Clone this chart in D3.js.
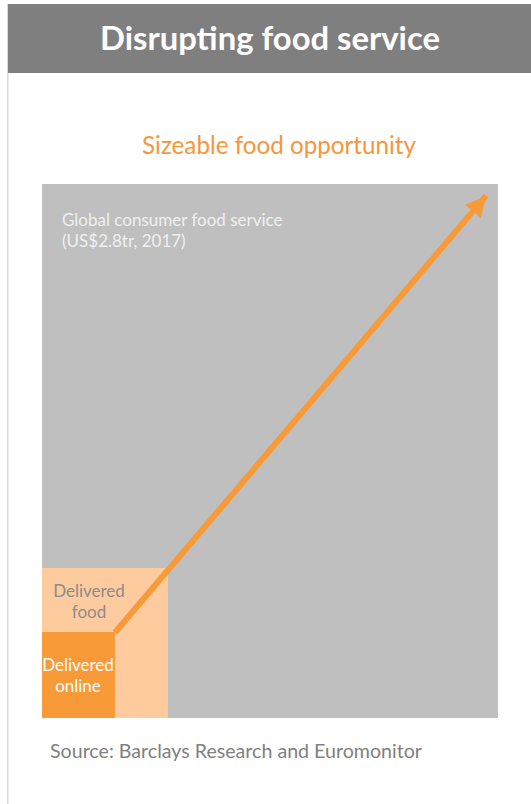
<!DOCTYPE html>
<html lang="en">
  <head>
    <meta charset="utf-8">
    <title>Disrupting food service</title>
    <script src="https://cdnjs.cloudflare.com/ajax/libs/d3/7.8.5/d3.min.js"></script>
    <style type="text/css">
      body { margin: 0; background: #fff; }
      text { font-family: 'Lato', 'Open Sans', sans-serif; }
    </style>
  </head>
  <body>
    <svg id="chart"></svg>
    <script type="text/javascript">
// market segments, as share of global consumer food service (width %, height %)
var segments = ["Global consumer food service", "Delivered food", "Delivered online"];
var shareX = [100, 27.6, 16];
var shareY = [100, 28.1, 16.1];
var segmentColors = ["#bfbfbf", "#fecb9f", "#f99a38"];
// arrow from the online corner towards the whole market
var arrowFrom = [16, 16];
var arrowTo = [97.4, 97.8];

var w = 531, h = 804;
var svg = d3.select("#chart").attr("width", w).attr("height", h);

// fit a text element to a given pixel width
function fit(sel, width) {
  var len = sel.node().getComputedTextLength();
  var fs = parseFloat(sel.attr("font-size"));
  sel.attr("font-size", fs * width / len);
}

// panel border + header
svg.append("rect").attr("x", 7).attr("y", 4).attr("width", 1.5).attr("height", h - 4).attr("fill", "#d9d9d9");
svg.append("rect").attr("x", 8).attr("y", 4).attr("width", w - 8).attr("height", 69).attr("fill", "#7f7f7f");

var title = svg.append("text")
  .attr("x", 270).attr("y", 50)
  .attr("text-anchor", "middle")
  .attr("font-weight", "bold")
  .attr("font-size", 30)
  .attr("fill", "#fff")
  .text("Disrupting food service");
fit(title, 340);

var sub = svg.append("text")
  .attr("x", 279).attr("y", 154)
  .attr("text-anchor", "middle")
  .attr("font-size", 22)
  .attr("fill", "#f7963c")
  .text("Sizeable food opportunity");
fit(sub, 274);

var x = d3.scaleLinear().domain([0, 100]).range([42, 498]);
var y = d3.scaleLinear().domain([0, 100]).range([718, 184]);

svg.selectAll("rect.seg")
  .data(segments)
  .enter().append("rect")
  .attr("class", "seg")
  .attr("x", x(0))
  .attr("y", function(d, i) { return y(shareY[i]); })
  .attr("width", function(d, i) { return x(shareX[i]) - x(0); })
  .attr("height", function(d, i) { return y(0) - y(shareY[i]); })
  .attr("fill", function(d, i) { return segmentColors[i]; });

// labels
var g1 = svg.append("text").attr("x", 62).attr("font-size", 17).attr("fill", "#efefef");
g1.append("tspan").attr("x", 62).attr("y", 226).text("Global consumer food service");
g1.append("tspan").attr("x", 62).attr("y", 247).text("(US$2.8tr, 2017)");

var g2 = svg.append("text").attr("text-anchor", "middle").attr("font-size", 17).attr("fill", "#8c8c8c");
g2.append("tspan").attr("x", 89).attr("y", 597).text("Delivered");
g2.append("tspan").attr("x", 89).attr("y", 618).text("food");

var g3 = svg.append("text").attr("text-anchor", "middle").attr("font-size", 17).attr("fill", "#fff");
g3.append("tspan").attr("x", 78).attr("y", 671).text("Delivered");
g3.append("tspan").attr("x", 78).attr("y", 692).text("online");

// arrow
svg.append("defs").append("marker")
  .attr("id", "head")
  .attr("viewBox", "0 0 10 10")
  .attr("refX", 10).attr("refY", 5)
  .attr("markerWidth", 3.4).attr("markerHeight", 3.4)
  .attr("orient", "auto")
  .append("path").attr("d", "M0,0L10,5L0,10z").attr("fill", "#f99a38");

svg.append("line")
  .attr("x1", x(arrowFrom[0])).attr("y1", y(arrowFrom[1]))
  .attr("x2", x(arrowTo[0])).attr("y2", y(arrowTo[1]))
  .attr("stroke", "#f99a38")
  .attr("stroke-width", 6)
  .attr("marker-end", "url(#head)");

var src = svg.append("text")
  .attr("x", 50).attr("y", 758)
  .attr("font-size", 17)
  .attr("fill", "#808080")
  .text("Source: Barclays Research and Euromonitor");
fit(src, 372);
    </script>
  </body>
</html>
